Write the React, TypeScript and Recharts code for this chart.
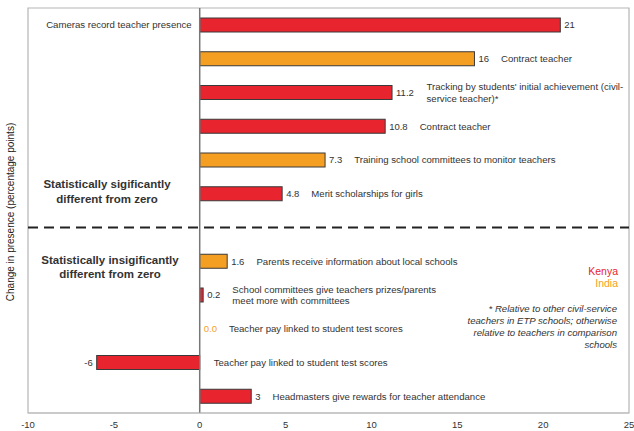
import { Bar, BarChart, ReferenceArea, ReferenceLine, XAxis, YAxis } from 'recharts';

const programs = [
  'Cameras record teacher presence',
  'Contract teacher',
  "Tracking by students' initial achievement (civil-\nservice teacher)*",
  'Contract teacher',
  'Training school committees to monitor teachers',
  'Merit scholarships for girls',
  '',
  'Parents receive information about local schools',
  'School committees give teachers prizes/parents\nmeet more with committees',
  'Teacher pay linked to student test scores',
  'Teacher pay linked to student test scores',
  'Headmasters give rewards for teacher attendance',
];
const countries = ['Kenya', 'India', 'Kenya', 'Kenya', 'India', 'Kenya', '', 'India', 'Kenya', 'India', 'Kenya', 'Kenya'];
const change = [21, 16, 11.2, 10.8, 7.3, 4.8, null, 1.6, 0.2, 0, -6, 3];
const xTicks = [-10, -5, 0, 5, 10, 15, 20, 25];

const COLORS: Record<string, string> = { Kenya: '#e8242f', India: '#f59f22' };
const FONT = '"Liberation Sans", Arial, Helvetica, sans-serif';

const data = programs.map((desc, i) => ({
  key: 'r' + i,
  desc,
  country: countries[i],
  value: change[i],
}));
const gapKey = data.find(d => d.value == null)!.key;

// rough Arial digit widths, used to put the description after the number
const textWidth = (s: string, size: number) =>
  [...s].reduce((w, c) => w + (c === '.' ? 0.278 : c === '-' ? 0.333 : 0.556), 0) * size;

function BarWithLabels(props: any) {
  const { x, y, width, height, payload, index } = props;
  if (payload == null || payload.value == null) return null;
  const v: number = payload.value;
  const color = COLORS[payload.country];
  const left = Math.min(x, x + width);
  const right = Math.max(x, x + width);
  const cy = y + height / 2;
  const valText = v === 0 ? '0.0' : String(v);
  const lines: string[] = payload.desc.split('\n');
  const valSize = 9.5;

  let valX: number;
  let anchor: 'start' | 'end' = 'start';
  let descX: number;
  if (v < 0) {
    valX = left - 4;
    anchor = 'end';
    descX = right + 14;
  } else {
    valX = right + 4;
    descX = valX + textWidth(valText, valSize) + 12;
  }
  let descAnchor: 'start' | 'end' = 'start';
  if (index === 0) {
    descX = left - 8;
    descAnchor = 'end';
  }

  return (
    <g>
      {right - left > 0.5 && (
        <rect x={left} y={y} width={right - left} height={height} fill={color} stroke="#3a3a3a" strokeWidth={1} />
      )}
      <text
        x={valX}
        y={cy}
        dy="0.35em"
        textAnchor={anchor}
        fontSize={valSize}
        fontFamily={FONT}
        fill={v === 0 ? color : '#333'}
      >
        {valText}
      </text>
      <text x={descX} y={cy} textAnchor={descAnchor} fontSize={9.6} fontFamily={FONT} fill="#333">
        {lines.map((ln, i) => (
          <tspan key={i} x={descX} dy={i === 0 ? `${0.35 - (lines.length - 1) * 0.6}em` : '1.2em'}>
            {ln}
          </tspan>
        ))}
      </text>
    </g>
  );
}

const footnote = [
  '* Relative to other civil-service',
  'teachers in ETP schools; otherwise',
  'relative to teachers in comparison',
  'schools',
];

export default function App() {
  return (
    <div style={{ position: 'fixed', left: 0, top: 0, width: 634, height: 431, background: '#fff' }}>
      <BarChart
        width={634}
        height={431}
        data={data}
        layout="vertical"
        margin={{ top: 8, right: 5, bottom: 0, left: 28 }}
        barCategoryGap={0}
      >
        <XAxis
          type="number"
          domain={[-10, 25]}
          ticks={xTicks}
          allowDataOverflow
          height={18}
          tickLine={false}
          axisLine={{ stroke: '#bbb' }}
          tick={{ fontSize: 9.5, fill: '#333', fontFamily: FONT }}
        />
        <YAxis type="category" dataKey="key" hide />
        <ReferenceArea x1={-10} x2={25} fill="none" fillOpacity={0} stroke="#b5b5b5" strokeWidth={1.2} />
        <ReferenceLine x={0} stroke="#777" strokeWidth={1.5} />
        <ReferenceLine y={gapKey} stroke="#222" strokeWidth={2} strokeDasharray="10 6" />
        <Bar dataKey="value" barSize={14} isAnimationActive={false} shape={BarWithLabels} />
      </BarChart>
      <svg
        width={634}
        height={431}
        style={{ position: 'absolute', left: 0, top: 0, pointerEvents: 'none' }}
        fontFamily={FONT}
      >
        <text x={10} y={212} transform="rotate(-90 10 212)" textAnchor="middle" dy="0.35em" fontSize={10} fill="#222">
          Change in presence (percentage points)
        </text>
        <text textAnchor="middle" fontSize={11.5} fontWeight="bold" fill="#333">
          <tspan x={107} y={188}>Statistically sigificantly</tspan>
          <tspan x={107} y={203}>different from zero</tspan>
        </text>
        <text textAnchor="middle" fontSize={11.5} fontWeight="bold" fill="#333">
          <tspan x={110} y={264}>Statistically insigificantly</tspan>
          <tspan x={110} y={278}>different from zero</tspan>
        </text>
        <text x={618} y={275} textAnchor="end" fontSize={10.5} fill={COLORS.Kenya}>Kenya</text>
        <text x={618} y={287} textAnchor="end" fontSize={10.5} fill={COLORS.India}>India</text>
        <text textAnchor="end" fontSize={9.6} fontStyle="italic" fill="#333">
          {footnote.map((ln, i) => (
            <tspan key={i} x={617} y={311.5 + i * 12}>{ln}</tspan>
          ))}
        </text>
      </svg>
    </div>
  );
}
